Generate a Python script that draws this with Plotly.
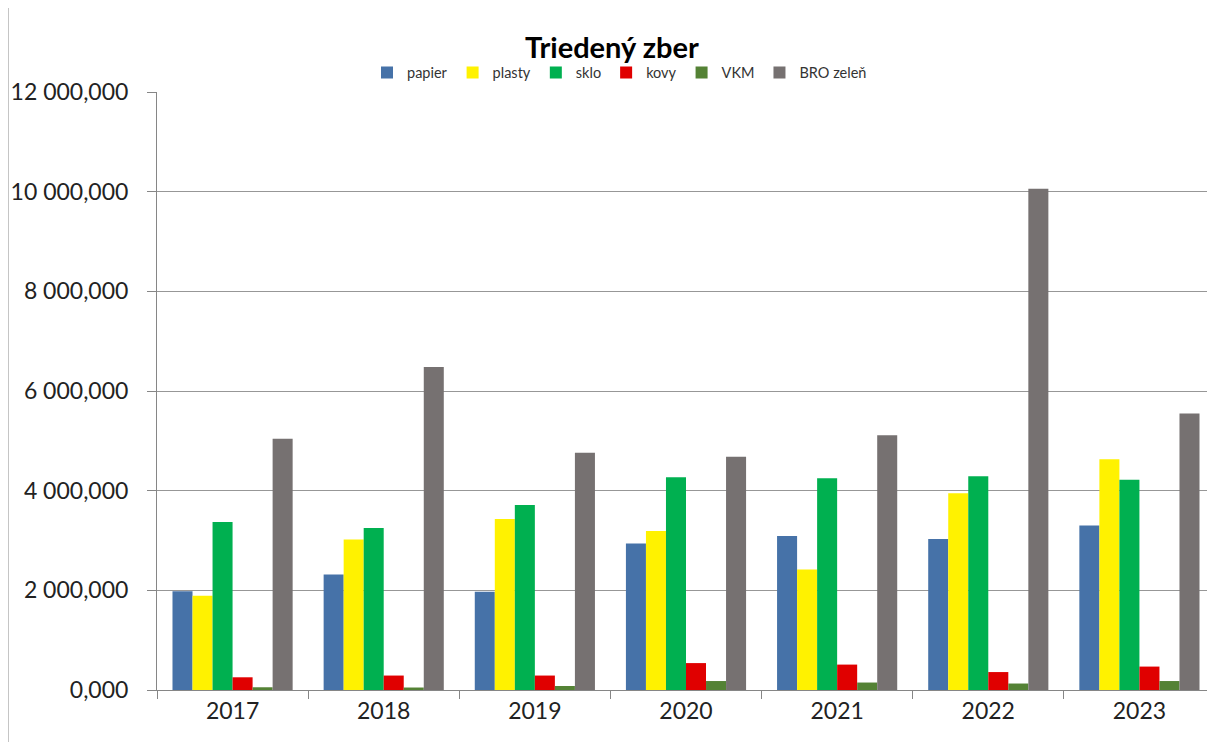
import plotly.graph_objects as go

years = ["2017", "2018", "2019", "2020", "2021", "2022", "2023"]
papier = [1980, 2320, 1970, 2940, 3090, 3030, 3300]
plasty = [1890, 3020, 3430, 3190, 2420, 3950, 4630]
sklo = [3370, 3250, 3710, 4270, 4250, 4290, 4220]
kovy = [255, 290, 290, 540, 510, 360, 470]
vkm = [55, 50, 80, 180, 150, 130, 180]
bro = [5040, 6480, 4760, 4680, 5110, 10060, 5550]

series = [
    ("papier", papier, "#4672A8"),
    ("plasty", plasty, "#FFF200"),
    ("sklo", sklo, "#00B050"),
    ("kovy", kovy, "#E00000"),
    ("VKM", vkm, "#548235"),
    ("BRO zeleň", bro, "#767171"),
]

fig = go.Figure()
for name, vals, col in series:
    fig.add_trace(go.Bar(x=years, y=vals, name=name, marker=dict(color=col, line=dict(width=0))))

# page body offset of 8px in the browser
O = 8
W, H = 1215 - O, 742 - O
L = 157 - O
T = 92 - O
PB = 690 - O          # plot bottom in figure pixels
B = H - PB
R = 0
pw = W - L - R
ph = PB - T


def px(xw):
    return (xw - O - L) / pw


def py(yw):
    return (PB - (yw - O)) / ph


fig.update_layout(
    width=W, height=H,
    margin=dict(l=L, r=R, t=T, b=B, autoexpand=False),
    paper_bgcolor="white", plot_bgcolor="white",
    barmode="group", bargap=0.205, bargroupgap=0,
    separators=", ",
    font=dict(family="Lato, Liberation Sans, sans-serif", color="#222222"),
    showlegend=True,
    legend=dict(orientation="h", x=px(367), xanchor="left", y=py(72.5), yanchor="middle",
                font=dict(size=14.5, color="#333333"), itemwidth=30, traceorder="normal",
                bgcolor="rgba(0,0,0,0)"),
    xaxis=dict(type="category", showline=True, linecolor="#868686", linewidth=1,
               ticks="outside", tickson="boundaries", ticklen=8, tickcolor="#868686",
               tickfont=dict(size=23, color="#222222"), showgrid=False),
    yaxis=dict(range=[0, 12000], dtick=2000, tickformat=",.3f",
               showline=True, linecolor="#868686", linewidth=1,
               ticks="outside", ticklen=9, tickcolor="#868686",
               gridcolor="#979797", gridwidth=1, ticklabelstandoff=14,
               tickfont=dict(size=23, color="#222222"), zeroline=False),
    annotations=[dict(text="<b>Triedený zber</b>", xref="paper", yref="paper",
                      x=px(612), y=py(47), xanchor="center", yanchor="middle",
                      showarrow=False, font=dict(size=29, color="#000000"))],
    shapes=[dict(type="line", xref="paper", yref="paper",
                 x0=px(8), x1=px(8), y0=py(0), y1=py(742),
                 line=dict(color="#8c8c8c", width=1))],
)

fig.write_html("out.html")
